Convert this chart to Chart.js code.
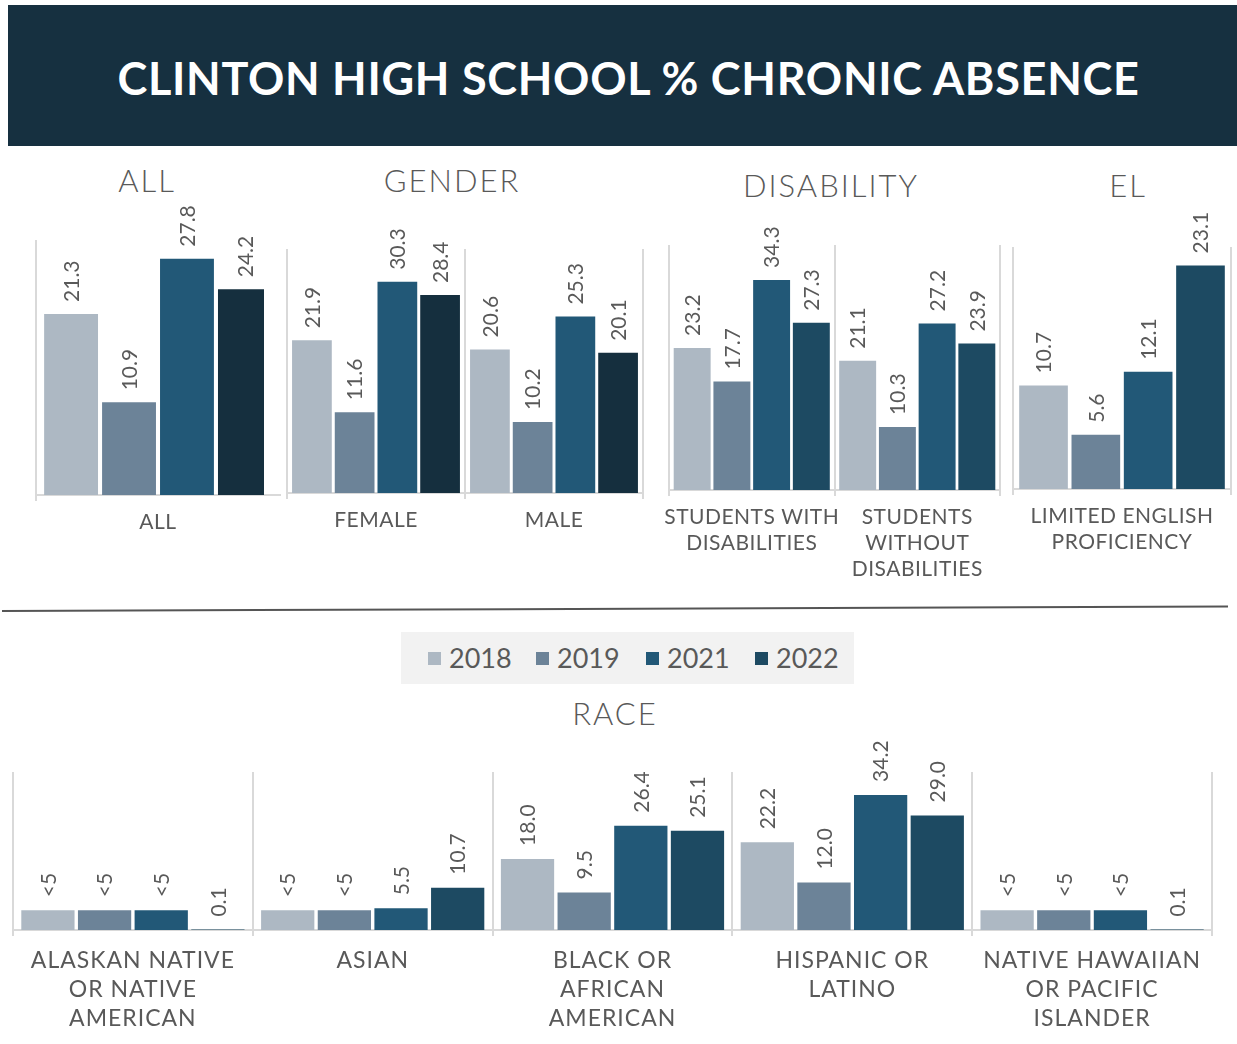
<!DOCTYPE html>
<html>
<head>
<meta charset="utf-8">
<script src="https://cdn.jsdelivr.net/npm/chart.js@4"></script>
<style>
  body { margin: 0; background: #fff; }
  #page { position: relative; width: 1237px; height: 1044px; overflow: hidden; font-family: Lato, "Noto Sans", sans-serif; }
  #page canvas { position: absolute; }
  .banner { position: absolute; left: 8px; top: 5px; width: 1229px; height: 141px; background: #163040; }
  .banner h1 { margin: 0; position: absolute; left: 0; right: 0; top: 43px; text-align: center; color: #fff; font-size: 45px; font-weight: 700; letter-spacing: 0.7px; line-height: 60px; padding-left: 12px; }
  .ptitle { position: absolute; width: 300px; margin-left: -150px; text-align: center; color: #595959; font-size: 31px; font-weight: 300; letter-spacing: 2px; line-height: 40px; }
  .rule { position: absolute; left: 2px; top: 610px; width: 1226px; height: 0; border-top: 2px solid #555; transform-origin: 0 0; transform: rotate(-0.21deg); }
  .legend { position: absolute; left: 401px; top: 632px; width: 453px; height: 52px; background: #f2f2f2; }
  .legend span { position: absolute; top: 0; line-height: 52px; font-size: 27px; color: #595959; }
  .legend i { position: absolute; top: 20px; width: 13px; height: 13px; }
</style>
</head>
<body>
<div id="page">
  <div class="banner"><h1>CLINTON HIGH SCHOOL % CHRONIC ABSENCE</h1></div>
  <div class="ptitle" style="left:147px;top:160px">ALL</div>
  <div class="ptitle" style="left:452px;top:160px">GENDER</div>
  <div class="ptitle" style="left:831px;top:165px">DISABILITY</div>
  <div class="ptitle" style="left:1128px;top:165px">EL</div>
  <div class="ptitle" style="left:615px;top:693px">RACE</div>
  <div class="rule"></div>
  <div class="legend" id="legend"></div>

  <canvas id="allChart"></canvas>
  <canvas id="genderChart"></canvas>
  <canvas id="disabilityChart"></canvas>
  <canvas id="elChart"></canvas>
  <canvas id="raceChart"></canvas>
</div>

<script>
const years = ["2018", "2019", "2021", "2022"];

// ALL
const allCategories = ["ALL"];
const all2018 = [21.3];
const all2019 = [10.9];
const all2021 = [27.8];
const all2022 = [24.2];

// GENDER
const genderCategories = ["FEMALE", "MALE"];
const gender2018 = [21.9, 20.6];
const gender2019 = [11.6, 10.2];
const gender2021 = [30.3, 25.3];
const gender2022 = [28.4, 20.1];

// DISABILITY
const disabilityCategories = [["STUDENTS WITH", "DISABILITIES"], ["STUDENTS", "WITHOUT", "DISABILITIES"]];
const disability2018 = [23.2, 21.1];
const disability2019 = [17.7, 10.3];
const disability2021 = [34.3, 27.2];
const disability2022 = [27.3, 23.9];

// EL
const elCategories = [["LIMITED ENGLISH", "PROFICIENCY"]];
const el2018 = [10.7];
const el2019 = [5.6];
const el2021 = [12.1];
const el2022 = [23.1];

// RACE (suppressed groups shown as "<5")
const raceCategories = [
    ["ALASKAN NATIVE", "OR NATIVE", "AMERICAN"],
    ["ASIAN"],
    ["BLACK OR", "AFRICAN", "AMERICAN"],
    ["HISPANIC OR", "LATINO"],
    ["NATIVE HAWAIIAN", "OR PACIFIC", "ISLANDER"]
];
const race2018 = [5, 5, 18.0, 22.2, 5];
const race2019 = [5, 5, 9.5, 12.0, 5];
const race2021 = [5, 5.5, 26.4, 34.2, 5];
const race2022 = [0.1, 10.7, 25.1, 29.0, 0.1];
const raceText2018 = ["<5", "<5", "18.0", "22.2", "<5"];
const raceText2019 = ["<5", "<5", "9.5", "12.0", "<5"];
const raceText2021 = ["<5", "5.5", "26.4", "34.2", "<5"];
const raceText2022 = ["0.1", "10.7", "25.1", "29.0", "0.1"];

const colors = ["#adb8c3", "#6c8398", "#225877", "#1d4a62"];
const darkLast = "#152f3e";
const textGray = "#595959";

// vertical value labels above each bar
const barLabels = {
    id: "barLabels",
    beforeDraw(chart, args, opts) {
        chart.ctx.letterSpacing = opts.spacing || "0px";
    },
    afterDatasetsDraw(chart, args, opts) {
        const ctx = chart.ctx;
        ctx.save();
        ctx.letterSpacing = "0px";
        ctx.font = opts.size + "px Lato";
        ctx.fillStyle = textGray;
        ctx.textAlign = "left";
        ctx.textBaseline = "middle";
        chart.data.datasets.forEach((ds, i) => {
            chart.getDatasetMeta(i).data.forEach((bar, j) => {
                const text = ds.texts ? ds.texts[j] : ds.data[j].toFixed(1);
                ctx.save();
                ctx.translate(bar.x + 1, bar.y - opts.gap);
                ctx.rotate(-Math.PI / 2);
                ctx.fillText(text, 0, 0);
                ctx.restore();
            });
        });
        ctx.restore();
    }
};

function makePanel(id, area, categories, series, opts) {
    const padL = 22, padR = 22, padT = 80, padB = 4;
    const canvas = document.getElementById(id);
    canvas.width = area.x1 - area.x0 + padL + padR;
    canvas.height = area.base - area.top + padT + opts.axisH + padB;
    canvas.style.left = (area.x0 - padL) + "px";
    canvas.style.top = (area.top - padT) + "px";

    const datasets = series.map((s, i) => ({
        label: years[i],
        data: s.data,
        texts: s.texts,
        backgroundColor: s.color || colors[i],
        categoryPercentage: opts.catPct,
        barPercentage: opts.barPct,
        clip: opts.clip || 0
    }));

    // the closing gridline has no tick, so it gets the scale context
    const gridColor = opts.hideLastGrid
        ? c => (c.type === "tick" ? "#d9d9d9" : "rgba(0,0,0,0)")
        : "#d9d9d9";

    return new Chart(canvas, {
        type: "bar",
        data: { labels: categories, datasets },
        options: {
            responsive: false,
            animation: false,
            layout: { padding: { left: padL, right: padR, top: padT, bottom: padB } },
            plugins: {
                legend: { display: false },
                tooltip: { enabled: false },
                barLabels: { size: opts.labelSize, gap: opts.labelGap, spacing: opts.tickSpacing }
            },
            scales: {
                x: {
                    grid: { color: gridColor, lineWidth: 2, offset: true, tickLength: 6 },
                    border: { color: "#d9d9d9", width: 2 },
                    ticks: {
                        color: textGray,
                        font: { family: "Lato", size: opts.tickSize, lineHeight: opts.tickLine },
                        padding: opts.tickPad,
                        maxRotation: 0,
                        autoSkip: false
                    },
                    afterFit: s => { s.height = opts.axisH; }
                },
                y: { display: false, min: 0, max: opts.yMax }
            }
        },
        plugins: [barLabels]
    });
}

const topOpts = { axisH: 100, catPct: 0.96, barPct: 0.93, labelSize: 21, labelGap: 12, tickSize: 21, tickLine: 1.24, tickPad: 8, tickSpacing: "0.5px" };

makePanel("allChart", { x0: 36, x1: 280, top: 240, base: 495 }, allCategories, [
    { data: all2018 }, { data: all2019 }, { data: all2021 }, { data: all2022, color: darkLast }
], { ...topOpts, yMax: 30, catPct: 0.95, barPct: 0.93, hideLastGrid: true, clip: { left: 0, top: 80, bottom: 0, right: -16 } });

makePanel("genderChart", { x0: 287, x1: 643, top: 249, base: 493 }, genderCategories, [
    { data: gender2018 }, { data: gender2019 }, { data: gender2021 }, { data: gender2022, color: darkLast }
], { ...topOpts, yMax: 35 });

makePanel("disabilityChart", { x0: 669, x1: 1000, top: 245, base: 490 }, disabilityCategories, [
    { data: disability2018 }, { data: disability2019 }, { data: disability2021 }, { data: disability2022 }
], { ...topOpts, yMax: 40 });

makePanel("elChart", { x0: 1013, x1: 1231, top: 247, base: 489 }, elCategories, [
    { data: el2018 }, { data: el2019 }, { data: el2021 }, { data: el2022 }
], { ...topOpts, yMax: 25 });

makePanel("raceChart", { x0: 13, x1: 1212, top: 772, base: 930 }, raceCategories, [
    { data: race2018, texts: raceText2018 },
    { data: race2019, texts: raceText2019 },
    { data: race2021, texts: raceText2021 },
    { data: race2022, texts: raceText2022 }
], { axisH: 108, yMax: 40, catPct: 0.945, barPct: 0.94, labelSize: 21, labelGap: 13, tickSize: 23, tickLine: 1.26, tickPad: 10, tickSpacing: "1px" });

// shared legend
const legend = document.getElementById("legend");
const legendX = [27, 135, 245, 354];
years.forEach((y, i) => {
    const sw = document.createElement("i");
    sw.style.left = legendX[i] + "px";
    sw.style.background = colors[i];
    legend.appendChild(sw);
    const t = document.createElement("span");
    t.style.left = (legendX[i] + 21) + "px";
    t.textContent = y;
    legend.appendChild(t);
});
</script>
</body>
</html>
